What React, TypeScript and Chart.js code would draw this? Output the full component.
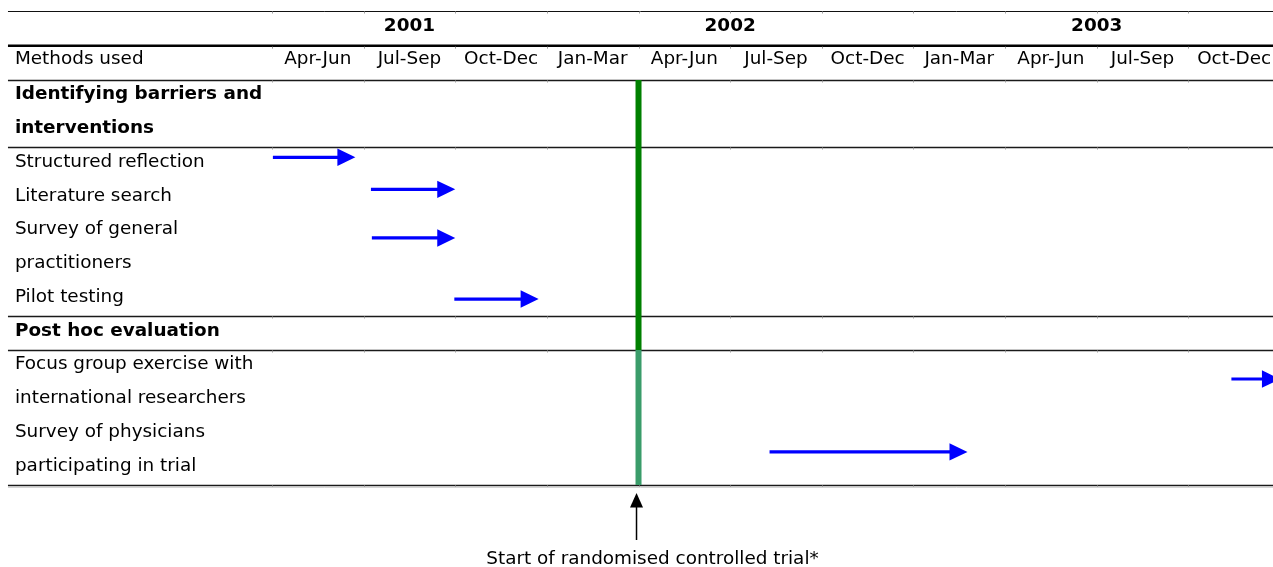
import React, { useEffect, useRef } from 'react';
import { Chart, registerables } from 'chart.js';

Chart.register(...registerables);

// ---------- data ----------
const years = ['2001', '2002', '2003'];
const yearStartQuarter = [0, 3, 7];
const yearEndQuarter = [3, 7, 11];
const quarterLabels = ['Apr-Jun', 'Jul-Sep', 'Oct-Dec', 'Jan-Mar', 'Apr-Jun', 'Jul-Sep', 'Oct-Dec', 'Jan-Mar', 'Apr-Jun', 'Jul-Sep', 'Oct-Dec'];
const headerLabel = 'Methods used';
const rowLabels = [
  'Identifying barriers and',
  'interventions',
  'Structured reflection',
  'Literature search',
  'Survey of general',
  'practitioners',
  'Pilot testing',
  'Post hoc evaluation',
  'Focus group exercise with',
  'international researchers',
  'Survey of physicians',
  'participating in trial',
];
const rowIsSection = [true, true, false, false, false, false, false, true, false, false, false, false];
const sectionRuleRows = [0, 2, 7, 8, 12];
const activityNames = [
  'Structured reflection',
  'Literature search',
  'Survey of general practitioners',
  'Pilot testing',
  'Focus group exercise with international researchers',
  'Survey of physicians participating in trial',
];
const activityStart = [0.01, 1.08, 1.09, 1.99, 10.47, 5.43];
const activityEnd = [0.91, 2.0, 2.0, 2.91, 11.0, 7.59];
const activityRow = [2.29, 3.24, 4.68, 6.49, 8.86, 11.02];
const rctStartQuarter = 4;
const rctLabel = 'Start of randomised controlled trial*';

// ---------- layout (not data) ----------
const W = 1273;
const H = 567;
const X_MIN = -2.968;
const X_MAX = 10.924;
const Y_MIN = -2.370;
const Y_MAX = 14.43;
const TABLE_LEFT = -2.881;
const LABEL_X = -2.805;
const TOP_RULE = -2.04;
const YEAR_RULE = -1.016;
const YEAR_BASE = -1.452;
const HEADER_BASE = -0.459;
const ROW_BASE = 0.572;
const PHASE_SPLIT = 8;
const NOTE_TAIL = 13.63;
const NOTE_TIP = 12.24;
const NOTE_BASE = 14.35;
const HEAD_LEN_PX = 18;
const HEAD_HALF_PX = 8.7;
const HEAD_LEN_Q = HEAD_LEN_PX / (W / (X_MAX - X_MIN));
const FONT = '"DejaVu Sans", Verdana, sans-serif';
const FS = 18.4;
const BLUE = '#0000ff';

const tablePlugin = {
  id: 'tableLayout',
  beforeDatasetsDraw(chart: any) {
    const { ctx } = chart;
    const xs = chart.scales.x;
    const ys = chart.scales.y;
    const X = (v: number) => xs.getPixelForValue(v);
    const Y = (v: number) => ys.getPixelForValue(v);
    ctx.save();
    const left = X(TABLE_LEFT);
    const right = chart.width;

    const hline = (yy: number, w: number, c: string) => {
      ctx.beginPath();
      ctx.strokeStyle = c;
      ctx.lineWidth = w;
      ctx.moveTo(left, yy);
      ctx.lineTo(right, yy);
      ctx.stroke();
    };
    const ticks = (yy: number) => {
      ctx.strokeStyle = '#a0a0a0';
      ctx.lineWidth = 1;
      for (let k = 0; k <= quarterLabels.length; k++) {
        const px = Math.round(X(k)) + 0.5;
        ctx.beginPath();
        ctx.moveTo(px, yy);
        ctx.lineTo(px, yy + 2);
        ctx.stroke();
      }
    };

    const topY = Math.round(Y(TOP_RULE)) + 0.5;
    hline(topY, 1, '#111');
    ticks(topY);
    const yr = Y(YEAR_RULE);
    hline(yr, 2.5, '#000');
    ticks(yr + 1);
    const hdr = Math.round(Y(0)) + 0.5;
    hline(hdr, 1.3, '#1a1a1a');
    ticks(hdr);
    sectionRuleRows.forEach((r) => {
      if (r === 0) return;
      const py = Math.round(Y(r)) + 0.5;
      hline(py, 1.3, '#1a1a1a');
      ticks(py);
    });
    const last = sectionRuleRows[sectionRuleRows.length - 1];
    hline(Math.round(Y(last)) + 2.5, 1, '#d5d5d5');

    // texts
    ctx.fillStyle = '#000';
    ctx.textBaseline = 'alphabetic';
    ctx.font = `bold ${FS}px ${FONT}`;
    ctx.textAlign = 'center';
    years.forEach((yl, i) => {
      ctx.fillText(yl, X((yearStartQuarter[i] + yearEndQuarter[i]) / 2), Y(YEAR_BASE));
    });
    ctx.font = `${FS}px ${FONT}`;
    quarterLabels.forEach((q, i) => {
      ctx.fillText(q, X(i + 0.5), Y(HEADER_BASE));
    });
    ctx.textAlign = 'left';
    ctx.fillText(headerLabel, X(LABEL_X), Y(HEADER_BASE));
    rowLabels.forEach((lab, i) => {
      ctx.font = `${rowIsSection[i] ? 'bold ' : ''}${FS}px ${FONT}`;
      ctx.fillText(lab, X(LABEL_X), Y(i + ROW_BASE));
    });
    ctx.restore();
  },
  afterDatasetsDraw(chart: any) {
    const { ctx } = chart;
    const xs = chart.scales.x;
    const ys = chart.scales.y;
    const X = (v: number) => xs.getPixelForValue(v);
    const Y = (v: number) => ys.getPixelForValue(v);
    ctx.save();
    ctx.beginPath();
    ctx.rect(0, 0, chart.width, chart.height);
    ctx.clip();
    // arrowheads: tip at activityEnd, base where the shaft stops
    ctx.fillStyle = BLUE;
    activityNames.forEach((_, i) => {
      const meta = chart.getDatasetMeta(i + 2);
      const base = meta.data[1];
      const tipX = X(activityEnd[i]);
      const ty = base.y;
      ctx.beginPath();
      ctx.moveTo(tipX, ty);
      ctx.lineTo(tipX - HEAD_LEN_PX, ty - HEAD_HALF_PX);
      ctx.lineTo(tipX - HEAD_LEN_PX, ty + HEAD_HALF_PX);
      ctx.closePath();
      ctx.fill();
    });
    // RCT note arrow
    const ax = X(rctStartQuarter) - 2;
    const tip = Y(NOTE_TIP);
    const tail = Y(NOTE_TAIL);
    ctx.strokeStyle = '#000';
    ctx.lineWidth = 1.5;
    ctx.beginPath();
    ctx.moveTo(ax, tail);
    ctx.lineTo(ax, tip + 12);
    ctx.stroke();
    ctx.fillStyle = '#000';
    ctx.beginPath();
    ctx.moveTo(ax, tip);
    ctx.lineTo(ax - 6.5, tip + 14.5);
    ctx.lineTo(ax + 6.5, tip + 14.5);
    ctx.closePath();
    ctx.fill();
    ctx.font = `${FS}px ${FONT}`;
    ctx.textAlign = 'center';
    ctx.textBaseline = 'alphabetic';
    ctx.fillText(rctLabel, X(rctStartQuarter) + 14, Y(NOTE_BASE));
    ctx.restore();
  },
};

export default function App() {
  const ref = useRef<HTMLCanvasElement | null>(null);
  useEffect(() => {
    document.body.style.margin = '0';
    const canvas = ref.current;
    if (!canvas) return;
    const datasets: any[] = [
      {
        label: 'RCT (development phase)',
        data: [
          { x: rctStartQuarter, y: 0 },
          { x: rctStartQuarter, y: PHASE_SPLIT },
        ],
        showLine: true,
        borderColor: '#008000',
        borderWidth: 6,
        pointRadius: 0,
        borderCapStyle: 'butt',
      },
      {
        label: 'RCT (evaluation phase)',
        data: [
          { x: rctStartQuarter, y: PHASE_SPLIT },
          { x: rctStartQuarter, y: sectionRuleRows[sectionRuleRows.length - 1] },
        ],
        showLine: true,
        borderColor: '#3a9c6a',
        borderWidth: 6,
        pointRadius: 0,
        borderCapStyle: 'butt',
      },
      ...activityNames.map((name, i) => ({
        label: name,
        data: [
          { x: activityStart[i], y: activityRow[i] },
          { x: activityEnd[i] - HEAD_LEN_Q + 0.02, y: activityRow[i] },
        ],
        showLine: true,
        borderColor: BLUE,
        borderWidth: 3.2,
        pointRadius: 0,
        borderCapStyle: 'butt',
      })),
    ];
    const chart = new Chart(canvas, {
      type: 'scatter',
      data: { datasets },
      options: {
        animation: false,
        responsive: false,
        devicePixelRatio: 1,
        layout: { padding: 0 },
        plugins: { legend: { display: false }, tooltip: { enabled: false } },
        scales: {
          x: { type: 'linear', min: X_MIN, max: X_MAX, display: false },
          y: { type: 'linear', min: Y_MIN, max: Y_MAX, reverse: true, display: false },
        },
      },
      plugins: [tablePlugin],
    });
    return () => chart.destroy();
  }, []);
  return (
    <div style={{ position: 'fixed', left: 0, top: 0, width: W, height: H, background: '#fff' }}>
      <canvas ref={ref} width={W} height={H} style={{ width: W, height: H, display: 'block' }} />
    </div>
  );
}
